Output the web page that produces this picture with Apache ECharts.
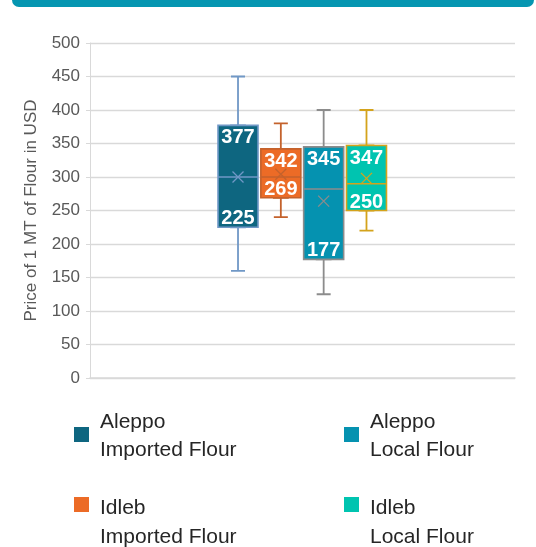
<!DOCTYPE html>
<html>
<head>
<meta charset="utf-8">
<script src="https://cdn.jsdelivr.net/npm/echarts@6/dist/echarts.min.js"></script>
<style>
html,body{margin:0;padding:0;background:#fff;}
#chart{width:536px;height:547px;}
</style>
</head>
<body>
<div id="chart"></div>
<script>
// ---- data ----
var categories = ['Aleppo Imported Flour', 'Idleb Imported Flour', 'Aleppo Local Flour', 'Idleb Local Flour'];
var minValues    = [160, 240, 125, 220];
var q1Values     = [225, 269, 177, 250];
var medianValues = [300, 300, 282, 290];
var q3Values     = [377, 342, 345, 347];
var maxValues    = [450, 380, 400, 400];
var meanValues   = [300, 304, 264, 298];
var yTicks = [0, 50, 100, 150, 200, 250, 300, 350, 400, 450, 500];

// ---- styles ----
var fillColors   = ['#0e6680', '#ec6b26', '#0592b0', '#00c4b0'];
var borderColors = ['#7098c6', '#c4622c', '#8c8c8c', '#d4a31c'];
var legendLefts  = [74, 74, 344, 344];
var legendTops   = [407.5, 494, 407.5, 494];
var legendIconExtent = [18, 51, 18, 51];
var FONT = 'Liberation Sans, Arial, sans-serif';

var chart = echarts.init(document.getElementById('chart'), null, {renderer: 'canvas'});

// main boxes (box part only)
var boxData = categories.map(function (c, i) {
  return {
    value: [q1Values[i], q1Values[i], medianValues[i], q3Values[i], q3Values[i]],
    itemStyle: {color: fillColors[i], borderColor: borderColors[i], borderWidth: 1.6}
  };
});
// whiskers with narrow caps
var whiskerData = categories.map(function (c, i) {
  return {
    value: [minValues[i], q1Values[i], medianValues[i], q3Values[i], maxValues[i]],
    itemStyle: {color: 'transparent', borderColor: borderColors[i], borderWidth: 1.8}
  };
});
var meanData = categories.map(function (c, i) {
  return {value: meanValues[i], itemStyle: {color: 'transparent', borderColor: borderColors[i], borderWidth: 1.3, opacity: 1}};
});

var labelCommon = {
  show: true, position: 'inside', color: '#ffffff', fontWeight: 'bold', fontSize: 20,
  fontFamily: FONT,
  formatter: function (p) { return String(p.value); }
};

var series = [
  {
    type: 'boxplot', xAxisIndex: 2, yAxisIndex: 2, data: whiskerData,
    boxWidth: [14, 14], z: 1, silent: true
  },
  {
    type: 'boxplot', xAxisIndex: 1, yAxisIndex: 1, data: boxData,
    boxWidth: [40, 40], z: 2, silent: true
  },
  {
    type: 'scatter', xAxisIndex: 1, yAxisIndex: 1, data: meanData, z: 3, silent: true,
    symbol: 'path://M0,0L10,10M10,0L0,10', symbolSize: 11
  },
  {
    type: 'scatter', xAxisIndex: 1, yAxisIndex: 1, data: q3Values, symbolSize: 0, z: 4, silent: true,
    itemStyle: {opacity: 1},
    label: Object.assign({}, labelCommon, {offset: [0, 12.5]})
  },
  {
    type: 'scatter', xAxisIndex: 1, yAxisIndex: 1, data: q1Values, symbolSize: 0, z: 4, silent: true,
    itemStyle: {opacity: 1},
    label: Object.assign({}, labelCommon, {offset: [0, -8.5]})
  }
];
categories.forEach(function (c, i) {
  series.push({type: 'bar', name: c, xAxisIndex: 0, yAxisIndex: 0, data: [], itemStyle: {color: fillColors[i]}});
});

var legends = categories.map(function (c, i) {
  var h = legendIconExtent[i];
  return {
    data: [c], left: legendLefts[i], top: legendTops[i], padding: 0,
    icon: 'path://M0,0L15,0L15,15L0,15Z M0,' + h + 'L15,' + h,
    itemWidth: 15, itemHeight: h, selectedMode: false,
    formatter: function (name) { return name.replace(' ', '\n'); },
    textStyle: {
      fontSize: 21, lineHeight: 28.5, color: '#262626',
      fontFamily: FONT,
      padding: [0, 0, 0, 6]
    }
  };
});

var gridTop = 43, gridBottom = 169;
var yMin = yTicks[0], yMax = yTicks[yTicks.length - 1];

var option = {
  animation: false,
  backgroundColor: '#ffffff',
  graphic: [{
    type: 'rect', shape: {x: 12, y: -12, width: 522, height: 19, r: 7},
    style: {fill: '#0596b1'}, silent: true
  }],
  legend: legends,
  grid: [
    {left: 90, right: 21, top: gridTop, bottom: gridBottom},
    {left: 216.6, right: 148.1, top: gridTop, bottom: gridBottom},
    {left: 216.6, right: 148.1, top: gridTop, bottom: gridBottom}
  ],
  xAxis: [
    {
      gridIndex: 0, type: 'category', data: [''],
      axisLine: {show: true, lineStyle: {color: '#d9d9d9', width: 1.5}},
      axisTick: {show: false}, axisLabel: {show: false}
    },
    {gridIndex: 1, type: 'category', data: categories, show: false},
    {gridIndex: 2, type: 'category', data: categories, show: false}
  ],
  yAxis: [
    {
      gridIndex: 0, type: 'value', min: yMin, max: yMax, interval: 50,
      name: 'Price of 1 MT of Flour in USD', nameLocation: 'middle', nameGap: 50,
      nameTextStyle: {fontSize: 17, color: '#595959', fontFamily: FONT},
      axisLine: {show: true, lineStyle: {color: '#d9d9d9', width: 1}},
      axisTick: {show: true, length: 4, lineStyle: {color: '#d9d9d9'}},
      axisLabel: {fontSize: 17, color: '#595959', margin: 10, fontFamily: FONT},
      splitLine: {show: true, lineStyle: {color: '#d9d9d9', width: 1.3}}
    },
    {gridIndex: 1, type: 'value', min: yMin, max: yMax, show: false, splitLine: {show: false}},
    {gridIndex: 2, type: 'value', min: yMin, max: yMax, show: false, splitLine: {show: false}}
  ],
  series: series
};
chart.setOption(option);
</script>
</body>
</html>
